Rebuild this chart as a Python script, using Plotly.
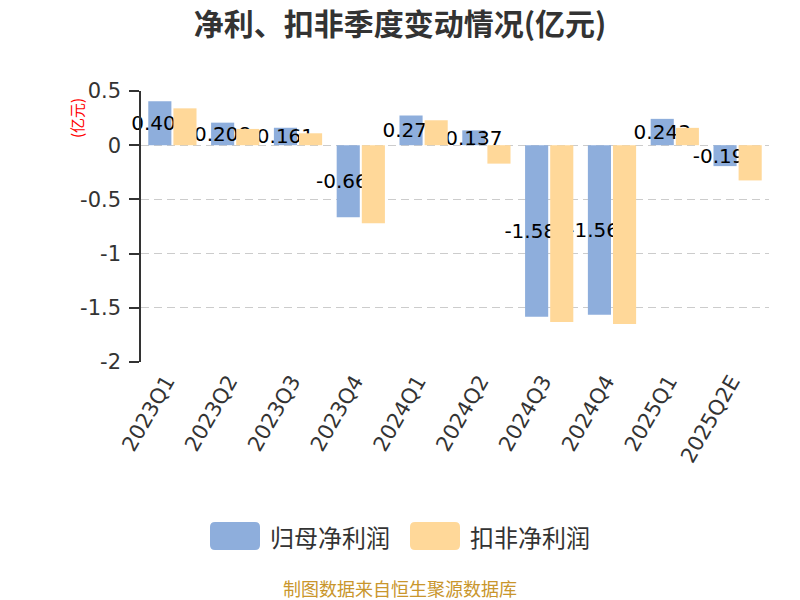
import plotly.graph_objects as go

# quarterly data (亿元)
quarters = ["2023Q1", "2023Q2", "2023Q3", "2023Q4", "2024Q1",
            "2024Q2", "2024Q3", "2024Q4", "2025Q1", "2025Q2E"]
net_profit = [0.406, 0.208, 0.161, -0.664, 0.274, 0.137, -1.583, -1.563, 0.243, -0.193]
deducted_profit = [0.34, 0.15, 0.11, -0.72, 0.23, -0.17, -1.63, -1.65, 0.16, -0.325]
y_ticks = [0.5, 0, -0.5, -1, -1.5, -2]

BLUE = "#8eaedc"
ORANGE = "#ffd899"
NUM = "DejaVu Sans, Noto Sans CJK SC"
CJK = "Noto Sans CJK SC"

# the page body adds an 8px margin, so screenshot pixels = figure pixels + 8
OFF = 8
# plot area in screenshot pixels
PL, PR, PT, PB = 141, 769, 91, 362
y_min, y_max = min(y_ticks), max(y_ticks)


def px(x):
    return (x - PL) / (PR - PL)


def py(y):
    return (PB - y) / (PB - PT)


def rounded_rect(x0, y0, x1, y1, r=5):
    """Rounded rectangle path in paper coords from a pixel box."""
    rx = r / (PR - PL)
    ry = r / (PB - PT)
    a, b, c, d = px(x0), py(y1), px(x1), py(y0)
    return (f"M {a + rx},{b} L {c - rx},{b} Q {c},{b} {c},{b + ry} "
            f"L {c},{d - ry} Q {c},{d} {c - rx},{d} L {a + rx},{d} "
            f"Q {a},{d} {a},{d - ry} L {a},{b + ry} Q {a},{b} {a + rx},{b} Z")


fig = go.Figure()

fig.add_trace(go.Bar(
    x=quarters, y=net_profit, name="归母净利润",
    marker=dict(color=BLUE, line=dict(width=0)),
    text=[f"{v:.3f}" for v in net_profit],
    textposition="inside", insidetextanchor="middle", textangle=0,
    insidetextfont=dict(family=NUM, size=20, color="#000"),
    cliponaxis=False, showlegend=False,
))
fig.add_trace(go.Bar(
    x=quarters, y=deducted_profit, name="扣非净利润",
    marker=dict(color=ORANGE, line=dict(width=0)),
    cliponaxis=False, showlegend=False,
))

n = len(quarters)
zero_pos = (0 - y_min) / (y_max - y_min)

fig.update_layout(
    width=800, height=600,
    margin=dict(l=PL - OFF, r=800 - PR + OFF, t=PT - OFF, b=600 - PB + OFF),
    paper_bgcolor="white", plot_bgcolor="white",
    barmode="group", bargap=0.2, bargroupgap=0.08,
    uniformtext=dict(minsize=20, mode="show"),
    font=dict(family=NUM, color="#333"),
    title=dict(text="<b>净利、扣非季度变动情况(亿元)</b>",
               x=(400 - OFF) / 800, xanchor="center",
               y=1 - (24 - OFF) / 600, yanchor="middle",
               font=dict(family=CJK, size=30, color="#333")),
    xaxis=dict(type="category", tickangle=-60, showline=False, ticks="",
               showgrid=False, ticklabelshift=-6, ticklabelstandoff=2,
               tickfont=dict(family=NUM, size=21, color="#333")),
    # axis line at y = 0 with ticks on category boundaries
    xaxis2=dict(overlaying="x", anchor="free", position=zero_pos, side="bottom",
                range=[-0.5, n - 0.5], tickvals=[i - 0.5 for i in range(n + 1)],
                ticks="outside", ticklen=9, tickcolor="#333", tickwidth=1.5,
                showline=True, linecolor="#333", linewidth=1.5,
                showticklabels=False, showgrid=False, zeroline=False),
    yaxis=dict(range=[y_min, y_max], tickvals=y_ticks,
               ticktext=[f"{v:g}" for v in y_ticks],
               showline=True, linecolor="#333", linewidth=1.5,
               ticks="outside", ticklen=10, tickcolor="#333", tickwidth=1.5,
               ticklabelstandoff=4,
               showgrid=True, gridcolor="#cccccc", griddash="8px,5px", gridwidth=1,
               zeroline=False, tickfont=dict(family=NUM, size=21, color="#333")),
)

# y-axis unit
fig.add_annotation(text="(亿元)", xref="paper", yref="paper", x=px(76), y=py(118),
                   xanchor="center", yanchor="middle", textangle=-90, showarrow=False,
                   font=dict(family=CJK, size=15, color="red"))

# legend drawn by hand (large rounded swatches)
for (x0, label, color) in [(210, "归母净利润", BLUE), (410, "扣非净利润", ORANGE)]:
    fig.add_shape(type="path", xref="paper", yref="paper",
                  path=rounded_rect(x0, 522, x0 + 50, 550), fillcolor=color,
                  line=dict(width=0))
    fig.add_annotation(text=label, xref="paper", yref="paper", x=px(x0 + 58),
                       y=py(536), xanchor="left", yanchor="middle", showarrow=False,
                       font=dict(family=CJK, size=24, color="#333"))

# source note
fig.add_annotation(text="制图数据来自恒生聚源数据库", xref="paper", yref="paper",
                   x=px(400), y=py(588), xanchor="center", yanchor="middle",
                   showarrow=False, font=dict(family=CJK, size=18, color="#c9962c"))

fig.write_html("out.html")
